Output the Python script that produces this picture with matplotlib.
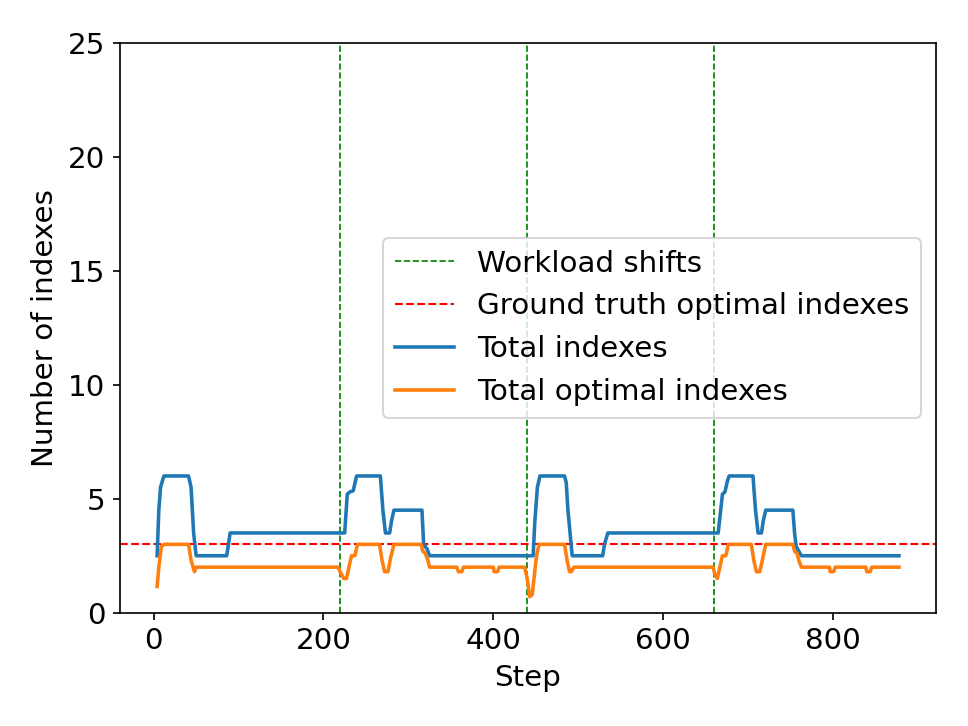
import matplotlib

matplotlib.use("Agg")
import matplotlib.pyplot as plt

# breakpoints (step, value)
total_steps = [4, 6, 8, 12, 41, 44, 47, 50, 86, 88, 90, 225, 228, 231, 235, 239,
               267, 270, 273, 278, 280, 283, 316, 318, 322, 325, 447, 449, 452,
               455, 484, 486, 488, 493, 529, 531, 535, 665, 668, 670, 673, 676,
               678, 706, 709, 712, 716, 718, 721, 753, 755, 757, 760, 763, 878]
total_vals = [2.5, 4.5, 5.5, 6, 6, 5.5, 3.5, 2.5, 2.5, 3.0, 3.5, 3.5, 5.2, 5.3,
              5.35, 6, 6, 4.5, 3.5, 3.5, 4.0, 4.5, 4.5, 3.0, 2.8, 2.5, 2.5, 4.0,
              5.5, 6, 6, 5.7, 4.5, 2.5, 2.5, 3.0, 3.5, 3.5, 4.5, 5.2, 5.3, 5.8,
              6, 6, 4.5, 3.5, 3.5, 4.0, 4.5, 4.5, 3.5, 2.9, 2.7, 2.5, 2.5]

optimal_steps = [4, 6, 9, 12, 41, 44, 48, 50, 217, 221, 224, 227, 230, 233, 237,
                 240, 266, 269, 272, 276, 279, 283, 315, 317, 320, 323, 325, 357,
                 359, 363, 365, 400, 401, 405, 407, 437, 440, 443, 446, 448, 451,
                 454, 484, 487, 490, 492, 495, 659, 661, 664, 667, 670, 674, 677,
                 704, 707, 710, 714, 717, 721, 753, 755, 758, 760, 763, 796, 797,
                 801, 803, 839, 840, 844, 846, 878]
optimal_vals = [1.15, 2.0, 2.9, 3, 3, 2.3, 1.8, 2.0, 2.0, 1.7, 1.5, 1.5, 2.0, 2.5,
                2.5, 3, 3, 2.3, 1.8, 1.8, 2.4, 3, 3, 2.7, 2.6, 2.3, 2.0, 2.0, 1.8,
                1.8, 2.0, 2.0, 1.8, 1.8, 2.0, 2.0, 1.5, 0.7, 0.8, 1.5, 2.5, 3, 3,
                2.3, 1.8, 1.8, 2.0, 2.0, 1.7, 1.5, 2.0, 2.5, 2.5, 3, 3, 2.3, 1.8,
                1.8, 2.3, 3, 3, 2.7, 2.6, 2.3, 2.0, 2.0, 1.8, 1.8, 2.0, 2.0, 1.8,
                1.8, 2.0, 2.0]

shift_steps = [220, 440, 660]
ground_truth = 3

plt.rcParams["font.size"] = 14

fig, ax = plt.subplots(figsize=(6.4, 4.8), dpi=151.25)
fig.subplots_adjust(left=0.124, right=0.967, top=0.941, bottom=0.156)

for i, s in enumerate(shift_steps):
    ax.axvline(s, color="green", linestyle="--", linewidth=0.8,
               label="Workload shifts" if i == 0 else None)
ax.axhline(ground_truth, color="red", linestyle="--", linewidth=1.0,
           label="Ground truth optimal indexes")
ax.plot(total_steps, total_vals, color="tab:blue", linewidth=1.7, label="Total indexes")
ax.plot(optimal_steps, optimal_vals, color="tab:orange", linewidth=1.7,
        label="Total optimal indexes")

ax.set_ylim(0, 25)
ax.set_xlabel("Step")
ax.set_ylabel("Number of indexes")
ax.legend(loc="center right")

fig.savefig("out.png", dpi=151.25)
